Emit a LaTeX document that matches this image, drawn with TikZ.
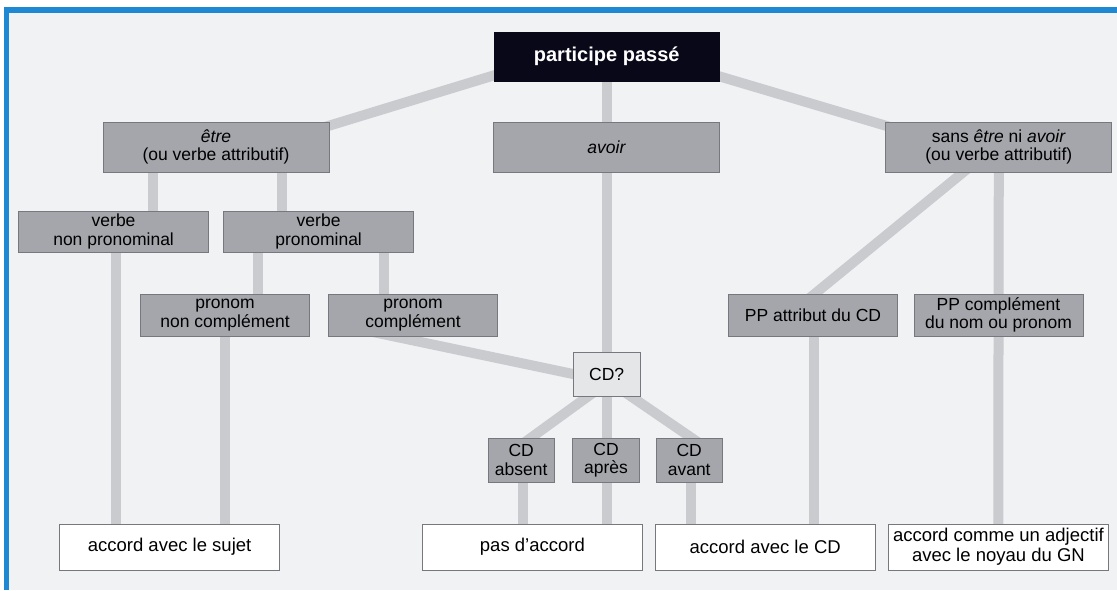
\documentclass[tikz,border=0pt]{standalone}
\usepackage{fontspec}
\setmainfont{Liberation Sans}
\usetikzlibrary{backgrounds}
\definecolor{framebl}{RGB}{30,136,210}
\definecolor{paper}{RGB}{241,242,244}
\definecolor{boxgray}{RGB}{164,166,171}
\definecolor{boxline}{RGB}{118,120,125}
\definecolor{qgray}{RGB}{229,230,232}
\definecolor{linkgray}{RGB}{201,203,207}
\definecolor{rootbk}{RGB}{8,8,24}
\newcommand{\midfont}{\fontsize{17.5}{18.5}\selectfont}
\newcommand{\resfont}{\fontsize{18.5}{20}\selectfont}
\tikzset{
  nodebox/.style = {draw=boxline, line width=0.8pt, inner sep=0pt, align=center},
  topbox/.style  = {nodebox, draw=rootbk, fill=rootbk, text=white,
                    font=\fontsize{20}{22}\selectfont\bfseries,
                    minimum width=225pt, minimum height=49pt},
  greybox/.style = {nodebox, fill=boxgray, font=\midfont, minimum height=42pt},
  bigbox/.style  = {greybox, minimum width=226pt, minimum height=50pt},
  cdbox/.style   = {greybox, minimum width=66.5pt, minimum height=44pt},
  resbox/.style  = {nodebox, fill=white, font=\resfont,
                    minimum width=220.5pt, minimum height=46pt},
  link/.style    = {line width=10pt, linkgray, shorten <=-25pt, shorten >=-25pt},
}

\begin{document}
\begin{tikzpicture}[x=1pt, y=-1pt]
  \useasboundingbox (0,0) rectangle (1117,590);
  % first row
  \node[topbox] (root) at (606.7,56.5) {participe passé};
  \node[bigbox] (etre)  at (216,147)   {\emph{être}\\(ou verbe attributif)};
  \node[bigbox] (avoir) at (606.7,147) {\emph{avoir}};
  \node[bigbox] (sans)  at (998.8,147) {sans \emph{être} ni \emph{avoir}\\(ou verbe attributif)};
  \node[greybox, minimum width=190pt, minimum height=41pt] (nonpro) at (113.6,231.5) {verbe\\non pronominal};
  \node[greybox, minimum width=190pt, minimum height=41pt] (pro)    at (318.6,231.5) {verbe\\pronominal};
  \node[greybox, minimum width=169pt] (pnoncompl) at (225,315)   {pronom\\non complément};
  \node[greybox, minimum width=169pt] (pcompl)    at (413,315)   {pronom\\complément};
  \node[greybox, minimum width=169pt] (ppattr)    at (813,315)   {PP attribut du CD};
  \node[greybox, minimum width=169pt] (ppcompl)   at (998.5,315) {PP complément\\du nom ou pronom};
  % CD question
  \node[cdbox, fill=qgray] (cdq) at (606.7,374) {CD?};
  \node[cdbox] (absent) at (521.2,460) {CD\\absent};
  \node[cdbox] (apres)  at (606,460)   {CD\\après};
  \node[cdbox] (avant)  at (689.2,460) {CD\\avant};
  % results
  \node[resbox] (sujet)    at (169.6,547) {accord avec le sujet};
  \node[resbox] (pasacc)   at (532.4,547) {pas d’accord};
  \node[resbox] (accd)     at (765.2,547) {accord avec le CD};
  \node[resbox] (adjectif) at (998.4,547) {accord comme un adjectif\\avec le noyau du GN};

  \begin{pgfonlayer}{background}
    \fill[white] (0,0) rectangle (1117,590);
    \fill[paper] (4,7) rectangle (1117,590);
    \fill[framebl] (4,7) rectangle (1117,13);
    \fill[framebl] (4,7) rectangle (9,590);
    % connectors
    \draw[link] ([yshift=6pt]root.south west) -- ([yshift=-4pt]etre.north east);
    \draw[link] ([yshift=5pt]root.south east) -- ([yshift=-4pt]sans.north west);
    \draw[link] (root.south) -- (avoir.north);
    \draw[link] (avoir.south) -- (cdq.north);
    \draw[link] ([xshift=-63pt]etre.south) -- ([xshift=39.4pt]nonpro.north);
    \draw[link] ([xshift=66pt]etre.south) -- ([xshift=-36.6pt]pro.north);
    \draw[link] ([xshift=2.4pt]nonpro.south) -- ([xshift=-53.6pt]sujet.north);
    \draw[link] ([xshift=-60.6pt]pro.south) -- ([xshift=33pt]pnoncompl.north);
    \draw[link] ([xshift=65.4pt]pro.south) -- ([xshift=-29pt]pcompl.north);
    \draw[link] (pnoncompl.south) -- ([xshift=55.4pt]sujet.north);
    \draw[link] ([xshift=-19pt]pcompl.south) -- (cdq.west);
    \draw[link] ([xshift=-18.7pt]cdq.south) -- ([xshift=10pt]absent.north);
    \draw[link] (cdq.south) -- ([xshift=0.7pt]apres.north);
    \draw[link] ([xshift=24.3pt]cdq.south) -- ([xshift=2pt]avant.north);
    \draw[link] ([xshift=1.8pt]absent.south) -- ([xshift=-9.4pt]pasacc.north);
    \draw[link] ([xshift=1pt]apres.south) -- ([xshift=74.6pt]pasacc.north);
    \draw[link] ([xshift=1.8pt]avant.south) -- ([xshift=-74.2pt]accd.north);
    \draw[link] ([xshift=-35.8pt]sans.south) -- ([xshift=2pt]ppattr.north);
    \draw[link] ([xshift=1pt]ppattr.south) -- ([xshift=48.8pt]accd.north);
    \draw[link] (sans.south) -- (ppcompl.north);
    \draw[link] (ppcompl.south) -- (adjectif.north);
  \end{pgfonlayer}
\end{tikzpicture}
\end{document}
